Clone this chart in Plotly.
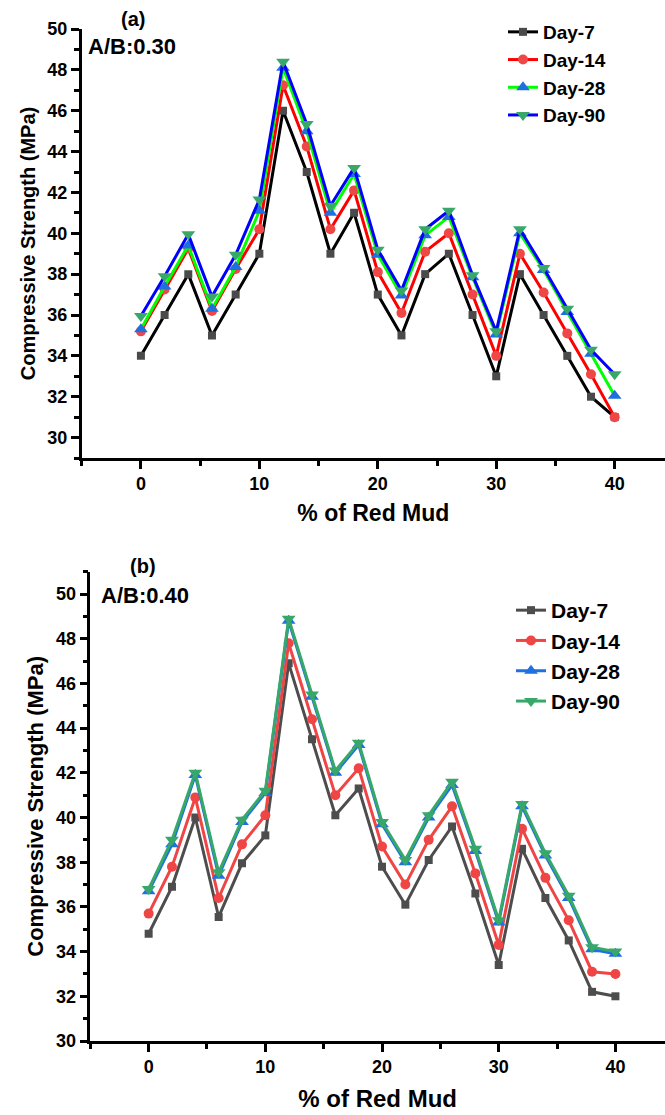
import plotly.graph_objects as go

# Red mud replacement levels (%)
red_mud = [0, 2, 4, 6, 8, 10, 12, 14, 16, 18, 20, 22, 24, 26, 28, 30, 32, 34, 36, 38, 40]

# Compressive strength (MPa), A/B = 0.30
a_day7 = [34.0, 36.0, 38.0, 35.0, 37.0, 39.0, 46.0, 43.0, 39.0, 41.0, 37.0,
          35.0, 38.0, 39.0, 36.0, 33.0, 38.0, 36.0, 34.0, 32.0, 31.0]
a_day14 = [35.2, 37.25, 39.25, 36.2, 38.25, 40.2, 47.25, 44.25, 40.2, 42.1, 38.1,
           36.1, 39.1, 40.0, 37.0, 34.0, 39.0, 37.1, 35.1, 33.1, 31.0]
a_day28 = [35.3, 37.4, 39.4, 36.3, 38.35, 41.1, 48.1, 45.0, 41.0, 42.9, 38.95,
           36.95, 39.9, 40.8, 37.85, 35.05, 40.0, 38.2, 36.15, 34.1, 32.05]
a_day90 = [35.95, 37.9, 39.95, 36.9, 38.95, 41.65, 48.4, 45.35, 41.35, 43.2, 39.2,
           37.2, 40.2, 41.1, 37.95, 35.2, 40.2, 38.3, 36.3, 34.3, 33.1]

# Compressive strength (MPa), A/B = 0.40
b_day7 = [34.8, 36.9, 40.0, 35.55, 37.95, 39.2, 46.9, 43.5, 40.1, 41.3, 37.8,
          36.1, 38.1, 39.6, 36.6, 33.4, 38.6, 36.4, 34.5, 32.2, 32.0]
b_day14 = [35.7, 37.8, 40.9, 36.4, 38.8, 40.1, 47.8, 44.4, 41.0, 42.2, 38.7,
           37.0, 39.0, 40.5, 37.5, 34.3, 39.5, 37.3, 35.4, 33.1, 33.0]
b_day28 = [36.7, 38.8, 41.9, 37.4, 39.8, 41.1, 48.8, 45.4, 42.0, 43.25, 39.7,
           38.0, 40.0, 41.45, 38.5, 35.3, 40.5, 38.3, 36.4, 34.1, 33.9]
b_day90 = [36.8, 39.0, 42.0, 37.55, 39.9, 41.2, 48.9, 45.5, 42.1, 43.35, 39.8,
           38.1, 40.1, 41.6, 38.6, 35.4, 40.6, 38.4, 36.5, 34.2, 34.0]

series_names = ["Day-7", "Day-14", "Day-28", "Day-90"]

W, H = 665, 1115
FONT = "Liberation Sans, Arial, sans-serif"


def px(x):
    return x / W


def py(y):
    return 1 - y / H


fig = go.Figure()

# Panel (a): line colours differ from marker colours
a_styles = [
    ("#000000", "square", "#4a4a4a", 8),
    ("#ff0000", "circle", "#ef4646", 10),
    ("#00ff00", "triangle-up", "#1f6fdf", 12),
    ("#0000ff", "triangle-down", "#38a86a", 12),
]
for name, ys, (lc, sym, mc, ms) in zip(series_names, [a_day7, a_day14, a_day28, a_day90], a_styles):
    fig.add_trace(go.Scatter(
        x=red_mud, y=ys, name=name, mode="lines+markers",
        line=dict(color=lc, width=3),
        marker=dict(symbol=sym, size=ms, color=mc, line=dict(width=0)),
        xaxis="x", yaxis="y", legend="legend",
    ))

# Panel (b)
b_styles = [
    ("#4d4d4d", "square", "#4d4d4d", 8),
    ("#f04545", "circle", "#f04545", 10),
    ("#1f70e0", "triangle-up", "#1f70e0", 12),
    ("#38a86a", "triangle-down", "#38a86a", 12),
]
for name, ys, (lc, sym, mc, ms) in zip(series_names, [b_day7, b_day14, b_day28, b_day90], b_styles):
    fig.add_trace(go.Scatter(
        x=red_mud, y=ys, name=name, mode="lines+markers",
        line=dict(color=lc, width=3),
        marker=dict(symbol=sym, size=ms, color=mc, line=dict(width=0)),
        xaxis="x2", yaxis="y2", legend="legend2",
    ))

tickfont = dict(family=FONT, size=18, color="black", weight="bold")


def xaxis(domain_left, anchor, title_size, standoff):
    return dict(
        domain=[domain_left, 1], anchor=anchor, range=[-5, 44.25],
        tick0=0, dtick=10, ticks="outside", ticklen=8, tickwidth=2.5, tickcolor="black",
        minor=dict(dtick=5, tick0=-5, ticks="outside", ticklen=5, tickwidth=2.5, tickcolor="black"),
        showline=True, linewidth=2.5, linecolor="black", showgrid=False, zeroline=False,
        tickfont=tickfont,
        title=dict(text="% of Red Mud", standoff=standoff,
                   font=dict(family=FONT, size=title_size, color="black", weight="bold")),
    )


def yaxis(domain, anchor, rng, title_size, standoff):
    return dict(
        domain=domain, anchor=anchor, range=rng,
        tick0=30, dtick=2, ticks="outside", ticklen=8, tickwidth=2.5, tickcolor="black",
        minor=dict(dtick=1, tick0=29, ticks="outside", ticklen=5, tickwidth=2.5, tickcolor="black"),
        showline=True, linewidth=2.5, linecolor="black", showgrid=False, zeroline=False,
        tickfont=tickfont,
        title=dict(text="Compressive Strength (MPa)", standoff=standoff,
                   font=dict(family=FONT, size=title_size, color="black", weight="bold")),
    )


fig.update_layout(
    width=W, height=H,
    margin=dict(l=0, r=0, t=0, b=0),
    paper_bgcolor="white", plot_bgcolor="white",
    template="none",
    xaxis=xaxis(px(81.7), "y", 23, 12),
    yaxis=yaxis([py(458), py(29)], "x", [29, 50], 20, 7),
    xaxis2=xaxis(px(90.3), "y2", 24, 14),
    yaxis2=yaxis([py(1041), py(571.7)], "x2", [30, 51], 22, 7),
    legend=dict(
        x=px(503), y=py(13), xanchor="left", yanchor="top",
        bgcolor="rgba(0,0,0,0)", borderwidth=0, tracegroupgap=0,
        font=dict(family=FONT, size=19, color="black", weight="bold"),
    ),
    legend2=dict(
        x=px(511), y=py(590), xanchor="left", yanchor="top",
        bgcolor="rgba(0,0,0,0)", borderwidth=0, tracegroupgap=0,
        font=dict(family=FONT, size=21, color="black", weight="bold"),
    ),
    annotations=[
        dict(text="(a)", x=px(133), y=py(19), xref="paper", yref="paper",
             showarrow=False, xanchor="center", yanchor="middle",
             font=dict(family=FONT, size=20, color="black", weight="bold")),
        dict(text="A/B:0.30", x=px(86), y=py(47), xref="paper", yref="paper",
             showarrow=False, xanchor="left", yanchor="middle",
             font=dict(family=FONT, size=22, color="black", weight="bold")),
        dict(text="(b)", x=px(143), y=py(566), xref="paper", yref="paper",
             showarrow=False, xanchor="center", yanchor="middle",
             font=dict(family=FONT, size=20, color="black", weight="bold")),
        dict(text="A/B:0.40", x=px(99), y=py(595), xref="paper", yref="paper",
             showarrow=False, xanchor="left", yanchor="middle",
             font=dict(family=FONT, size=22, color="black", weight="bold")),
    ],
    showlegend=True,
)

fig.write_html("out.html")
